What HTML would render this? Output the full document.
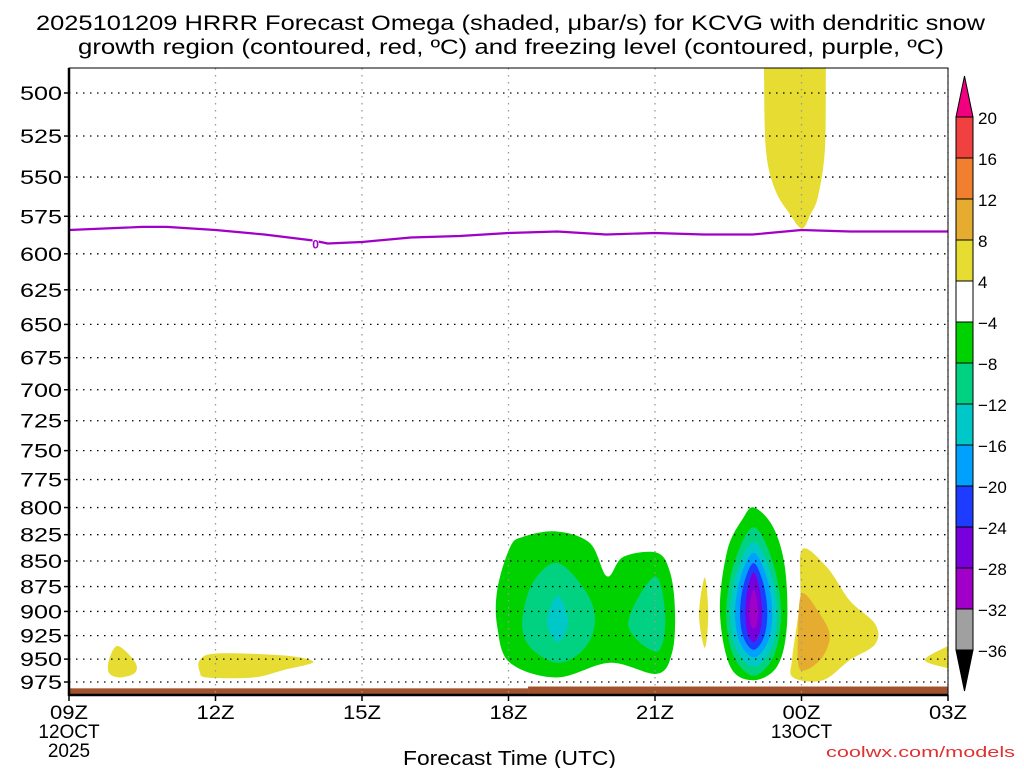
<!DOCTYPE html>
<html><head><meta charset="utf-8"><style>
body{margin:0;background:#fff;}
svg text{font-family:"Liberation Sans","DejaVu Sans",sans-serif;}
</style></head><body>
<svg id="chart" width="1024" height="768" viewBox="0 0 1024 768" xmlns="http://www.w3.org/2000/svg">
<rect width="1024" height="768" fill="#fff"/>
<text x="36" y="30" font-size="21" textLength="949" lengthAdjust="spacingAndGlyphs">2025101209 HRRR Forecast Omega (shaded, μbar/s) for KCVG with dendritic snow</text>
<text x="78" y="54" font-size="21" textLength="866" lengthAdjust="spacingAndGlyphs">growth region (contoured, red, ºC) and freezing level (contoured, purple, ºC)</text>
<defs><clipPath id="plotclip"><rect x="69" y="68" width="879" height="627"/></clipPath></defs>
<g id="shades" clip-path="url(#plotclip)"></g>
<g id="grid"></g>
<g id="fz" clip-path="url(#plotclip)"></g>
<g id="axes"></g>
<g id="cbar"></g>
<text x="403" y="765" font-size="20" textLength="213" lengthAdjust="spacingAndGlyphs">Forecast Time (UTC)</text>
<text x="826" y="757" font-size="15" fill="#e03030" textLength="189" lengthAdjust="spacingAndGlyphs">coolwx.com/models</text>
</svg>
<script>
const pressureTicks=[500,525,550,575,600,625,650,675,700,725,750,775,800,825,850,875,900,925,950,975];
const hourTicks=[0,3,6,9,12,15,18];
const hourLabels=["09Z","12Z","15Z","18Z","21Z","00Z","03Z"];
const cbarLabels=["20","16","12","8","4","−4","−8","−12","−16","−20","−24","−28","−32","−36"];
const cbarColors=["#f04040","#f08030","#e6ac30","#e6dc32","#ffffff","#00d200","#00d282","#00c8c8","#00a0ff","#1e3cff","#7800dc","#a000c8","#a0a0a0"];
const freezeHours=[0,1.5,2,3,4,5,5.3,6,7,8,9,10,11,12,13,14,15,16,17,18];
const freezeP=[584,582,582,584,587,591,593,592,589,588,586,585,587,586,587,587,584,585,585,585];
const yellowDrop=[[1.00,936],[1.35,953],[1.35,965],[1.04,970],[0.82,965],[0.82,951]];
const yellowStreak=[[2.68,951],[3.03,944],[4.38,946],[5.00,953],[4.38,962],[3.77,970],[2.83,970],[2.68,964]];
const yellowSliver=[[13.02,866],[13.09,903],[13.02,938],[12.90,903]];
const yellowRight=[[15.01,839],[15.52,856],[15.99,889],[16.51,913],[16.51,934],[15.99,951],[15.44,973],[14.83,970],[14.81,949],[14.97,889]];
const orangeRight=[[15.01,882],[15.38,903],[15.58,926],[15.38,951],[14.97,961],[14.93,922]];
const yellowUpper=[[14.2,470],[14.23,486],[14.27,533],[14.46,558],[14.77,574],[15.01,583],[15.18,574],[15.34,562],[15.48,533],[15.50,486],[15.52,470]];
const yellowEdge=[[18.3,930],[18,936],[17.53,951],[18,960],[18.3,966]];
const green1=[[9.03,837],[9.30,827],[9.99,822],[10.67,833],[11.02,865],[11.35,846],[12.04,842],[12.31,861],[12.41,900],[12.35,943],[12.04,966],[11.08,954],[9.99,970],[9.03,954],[8.77,916],[8.77,878]];
const teal1=[[10.01,852],[10.61,882],[10.77,912],[10.53,940],[10.01,954],[9.44,937],[9.28,910],[9.50,871]];
const cyan1=[[10.01,884],[10.22,910],[10.01,932],[9.79,910]];
const teal2=[[12.00,865],[12.21,907],[12.04,942],[11.45,913]];
const green3=[[14.03,800],[14.42,818],[14.66,856],[14.70,916],[14.50,958],[14.01,973],[13.54,958],[13.33,900],[13.48,840],[13.80,810]];
const lensCenter=14.02;
const lensHalfW=[0.56,0.48,0.38,0.28,0.17,0.09];
const lensTop=[818,832,842,852,861,878];
const lensBot=[968,958,948,940,932,918];
const lensColors=["#00d282","#00c8c8","#00a0ff","#1e3cff","#7800dc","#a000c8"];

const X0=69,X1=948,Y0=68,Y1=695;
const lnRef=Math.log(500);
function xs(h){return X0+h*(X1-X0)/18;}
function ys(p){return 93+(Math.log(p)-lnRef)*882;}
const NS="http://www.w3.org/2000/svg";
function mk(tag,parent,attrs){const e=document.createElementNS(NS,tag);for(const k in attrs)e.setAttribute(k,attrs[k]);parent.appendChild(e);return e;}
function smoothPath(pts){
  const P=pts.map(d=>[xs(d[0]),ys(d[1])]);const n=P.length;let s="M"+P[0][0].toFixed(1)+","+P[0][1].toFixed(1);
  for(let i=0;i<n;i++){const p0=P[(i-1+n)%n],p1=P[i],p2=P[(i+1)%n],p3=P[(i+2)%n];
    const c1=[p1[0]+(p2[0]-p0[0])/6,p1[1]+(p2[1]-p0[1])/6],c2=[p2[0]-(p3[0]-p1[0])/6,p2[1]-(p3[1]-p1[1])/6];
    s+="C"+c1.map(v=>v.toFixed(1)).join(",")+" "+c2.map(v=>v.toFixed(1)).join(",")+" "+p2.map(v=>v.toFixed(1)).join(",");}
  return s+"Z";}
const sh=document.getElementById('shades');
function fillShape(pts,color,name){const e=mk('path',sh,{d:smoothPath(pts),fill:color});
  
  }
fillShape(yellowDrop,"#e6dc32","omega-pos-drop");
fillShape(yellowStreak,"#e6dc32","omega-pos-streak");
fillShape(yellowSliver,"#e6dc32","omega-pos-sliver");
fillShape(yellowRight,"#e6dc32","omega-pos-right");
fillShape(orangeRight,"#e6ac30","omega-pos-right-core");
fillShape(yellowUpper,"#e6dc32","omega-pos-upper");
fillShape(yellowEdge,"#e6dc32","omega-pos-edge");
fillShape(green1,"#00d200","omega-neg-area-1");
fillShape(teal1,"#00d282","omega-neg-core-1");
fillShape(cyan1,"#00c8c8","omega-neg-max-1");
fillShape(teal2,"#00d282","omega-neg-core-2");
fillShape(green3,"#00d200","omega-neg-area-3");
for(let i=0;i<lensHalfW.length;i++){
  const c=lensCenter,w=lensHalfW[i],t=lensTop[i],b=lensBot[i],r=b-t;
  const pts=[[c,t],[c+w*0.7,t+r*0.22],[c+w,t+r*0.55],[c+w*0.75,t+r*0.85],[c,b],[c-w*0.75,t+r*0.85],[c-w,t+r*0.55],[c-w*0.7,t+r*0.22]];
  fillShape(pts,lensColors[i],"omega-neg-layer-"+(i+1));
}
const g1=mk('rect',sh,{x:X0,y:ys(982),width:xs(9.4)-X0,height:Y1-ys(982),fill:"#a0522d"});


const g2=mk('rect',sh,{x:xs(9.4),y:ys(980),width:X1-xs(9.4),height:Y1-ys(980),fill:"#a0522d"});


const gr=document.getElementById('grid');
pressureTicks.forEach(p=>{const l=mk('line',gr,{x1:X0,x2:X1,y1:ys(p),y2:ys(p),stroke:"#000","stroke-width":1.3,"stroke-dasharray":"1.5 5.5"});
  
  });
hourTicks.forEach(h=>{const l=mk('line',gr,{x1:xs(h),x2:xs(h),y1:Y0,y2:Y1,stroke:"#999","stroke-width":1.3,"stroke-dasharray":"1.5 5.5"});
  
  });
const fz=document.getElementById('fz');
const fpts=freezeHours.map((h,i)=>[h,freezeP[i]]);
let d="";fpts.forEach((q,i)=>{d+=(i?"L":"M")+xs(q[0]).toFixed(1)+","+ys(q[1]).toFixed(1);});
const fl=mk('path',fz,{d:d,fill:"none",stroke:"#a000c8","stroke-width":2.2,"stroke-linejoin":"round"});


mk('rect',fz,{x:xs(5.05)-3,y:ys(593)-5,width:6,height:10,fill:"#fff"});
const ft=mk('text',fz,{x:xs(5.05),y:ys(593)+5,"font-size":12,"font-weight":"bold",fill:"#a000c8","text-anchor":"middle"});
ft.textContent="0";


const ax=document.getElementById('axes');
mk('rect',ax,{x:X0,y:Y0,width:X1-X0,height:Y1-Y0,fill:"none",stroke:"#000","stroke-width":1});
mk('line',ax,{x1:X0,x2:X0,y1:Y0,y2:Y1+1,stroke:"#000","stroke-width":2.5});
mk('line',ax,{x1:X0,x2:X1,y1:Y1,y2:Y1,stroke:"#000","stroke-width":2.5});
pressureTicks.forEach(p=>{
  mk('line',ax,{x1:X0-5,x2:X0,y1:ys(p),y2:ys(p),stroke:"#000","stroke-width":1.5});
  const t=mk('text',ax,{x:20,y:ys(p)+7,"font-size":19,textLength:42,lengthAdjust:"spacingAndGlyphs",fill:"#000"});t.textContent=p;
  
  });
hourTicks.forEach((h,i)=>{
  mk('line',ax,{x1:xs(h),x2:xs(h),y1:Y1,y2:Y1+6,stroke:"#000","stroke-width":1.5});
  const t=mk('text',ax,{x:xs(h)-19,y:719,"font-size":19,textLength:38,lengthAdjust:"spacingAndGlyphs"});t.textContent=hourLabels[i];
  
  });
[["12OCT",xs(0),738],["2025",xs(0),757],["13OCT",xs(15),738]].forEach(a=>{
  const t=mk('text',ax,{x:a[1],y:a[2],"font-size":19,"text-anchor":"middle"});t.textContent=a[0];
  
  });
const cb=document.getElementById('cbar');
const cx0=956,cx1=973,ct=117,ch=41;
mk('polygon',cb,{points:`${cx0},${ct} ${cx1},${ct} ${(cx0+cx1)/2},${ct-41}`,fill:"#f0007f",stroke:"#000","stroke-width":1});
cbarColors.forEach((c,i)=>{const r=mk('rect',cb,{x:cx0,y:ct+i*ch,width:cx1-cx0,height:ch,fill:c,stroke:"#000","stroke-width":1});
  
  });
const yb=ct+cbarColors.length*ch;
mk('polygon',cb,{points:`${cx0},${yb} ${cx1},${yb} ${(cx0+cx1)/2},${yb+41}`,fill:"#000",stroke:"#000","stroke-width":1});
cbarLabels.forEach((l,i)=>{const t=mk('text',cb,{x:978,y:ct+i*ch+7,"font-size":17});t.textContent=l;
  
  });
</script>
</body></html>
